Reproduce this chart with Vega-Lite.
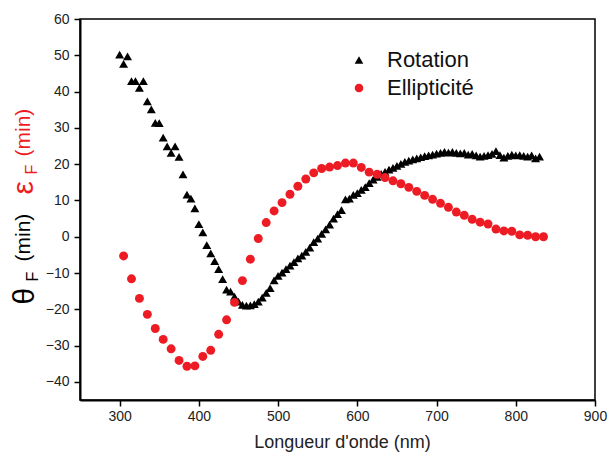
{
  "$schema": "https://vega.github.io/schema/vega-lite/v6.json",
  "width": 515,
  "height": 381,
  "autosize": "none",
  "padding": {"left": 80, "top": 19, "right": 15, "bottom": 59},
  "background": "white",
  "config": {
    "font": "Liberation Sans",
    "view": {"stroke": "#000", "strokeWidth": 1.5},
    "axis": {"grid": false, "labelFont": "Liberation Sans", "titleFont": "Liberation Sans", "titleFontWeight": "normal"}
  },
  "data": {"values": [
    {"series": "Rotation", "nm": 300, "value": 50.2},
    {"series": "Rotation", "nm": 305, "value": 47.6},
    {"series": "Rotation", "nm": 310, "value": 49.7},
    {"series": "Rotation", "nm": 315, "value": 42.9},
    {"series": "Rotation", "nm": 320, "value": 42.9},
    {"series": "Rotation", "nm": 325, "value": 41.0},
    {"series": "Rotation", "nm": 330, "value": 42.9},
    {"series": "Rotation", "nm": 335, "value": 37.3},
    {"series": "Rotation", "nm": 340, "value": 35.1},
    {"series": "Rotation", "nm": 345, "value": 31.4},
    {"series": "Rotation", "nm": 350, "value": 31.3},
    {"series": "Rotation", "nm": 355, "value": 27.3},
    {"series": "Rotation", "nm": 360, "value": 24.9},
    {"series": "Rotation", "nm": 365, "value": 23.1},
    {"series": "Rotation", "nm": 370, "value": 24.9},
    {"series": "Rotation", "nm": 375, "value": 22.0},
    {"series": "Rotation", "nm": 380, "value": 17.2},
    {"series": "Rotation", "nm": 385, "value": 11.6},
    {"series": "Rotation", "nm": 390, "value": 10.5},
    {"series": "Rotation", "nm": 395, "value": 7.8},
    {"series": "Rotation", "nm": 400, "value": 3.5},
    {"series": "Rotation", "nm": 405, "value": 1.2},
    {"series": "Rotation", "nm": 410, "value": -2.3},
    {"series": "Rotation", "nm": 415, "value": -4.6},
    {"series": "Rotation", "nm": 420, "value": -6.7},
    {"series": "Rotation", "nm": 425, "value": -8.9},
    {"series": "Rotation", "nm": 430, "value": -11.7},
    {"series": "Rotation", "nm": 435, "value": -14.6},
    {"series": "Rotation", "nm": 440, "value": -15.1},
    {"series": "Rotation", "nm": 445, "value": -16.5},
    {"series": "Rotation", "nm": 450, "value": -17.9},
    {"series": "Rotation", "nm": 455, "value": -18.8},
    {"series": "Rotation", "nm": 460, "value": -19.0},
    {"series": "Rotation", "nm": 465, "value": -18.9},
    {"series": "Rotation", "nm": 470, "value": -18.6},
    {"series": "Rotation", "nm": 475, "value": -17.9},
    {"series": "Rotation", "nm": 480, "value": -16.8},
    {"series": "Rotation", "nm": 485, "value": -15.5},
    {"series": "Rotation", "nm": 490, "value": -14.2},
    {"series": "Rotation", "nm": 495, "value": -12.0},
    {"series": "Rotation", "nm": 500, "value": -10.8},
    {"series": "Rotation", "nm": 505, "value": -9.9},
    {"series": "Rotation", "nm": 510, "value": -8.9},
    {"series": "Rotation", "nm": 515, "value": -8.0},
    {"series": "Rotation", "nm": 520, "value": -7.0},
    {"series": "Rotation", "nm": 525, "value": -6.0},
    {"series": "Rotation", "nm": 530, "value": -5.2},
    {"series": "Rotation", "nm": 535, "value": -4.2},
    {"series": "Rotation", "nm": 540, "value": -3.0},
    {"series": "Rotation", "nm": 545, "value": -1.5},
    {"series": "Rotation", "nm": 550, "value": -0.5},
    {"series": "Rotation", "nm": 555, "value": 0.8},
    {"series": "Rotation", "nm": 560, "value": 2.0},
    {"series": "Rotation", "nm": 565, "value": 3.3},
    {"series": "Rotation", "nm": 570, "value": 5.0},
    {"series": "Rotation", "nm": 575, "value": 6.2},
    {"series": "Rotation", "nm": 580, "value": 7.3},
    {"series": "Rotation", "nm": 585, "value": 10.3},
    {"series": "Rotation", "nm": 590, "value": 10.5},
    {"series": "Rotation", "nm": 595, "value": 11.5},
    {"series": "Rotation", "nm": 600, "value": 12.0},
    {"series": "Rotation", "nm": 605, "value": 12.9},
    {"series": "Rotation", "nm": 610, "value": 13.7},
    {"series": "Rotation", "nm": 615, "value": 14.8},
    {"series": "Rotation", "nm": 620, "value": 15.7},
    {"series": "Rotation", "nm": 625, "value": 16.5},
    {"series": "Rotation", "nm": 630, "value": 17.3},
    {"series": "Rotation", "nm": 635, "value": 17.9},
    {"series": "Rotation", "nm": 640, "value": 18.5},
    {"series": "Rotation", "nm": 645, "value": 19.0},
    {"series": "Rotation", "nm": 650, "value": 19.5},
    {"series": "Rotation", "nm": 655, "value": 20.1},
    {"series": "Rotation", "nm": 660, "value": 20.6},
    {"series": "Rotation", "nm": 665, "value": 21.0},
    {"series": "Rotation", "nm": 670, "value": 21.3},
    {"series": "Rotation", "nm": 675, "value": 21.6},
    {"series": "Rotation", "nm": 680, "value": 21.9},
    {"series": "Rotation", "nm": 685, "value": 22.2},
    {"series": "Rotation", "nm": 690, "value": 22.4},
    {"series": "Rotation", "nm": 695, "value": 22.6},
    {"series": "Rotation", "nm": 700, "value": 22.9},
    {"series": "Rotation", "nm": 705, "value": 23.1},
    {"series": "Rotation", "nm": 710, "value": 23.4},
    {"series": "Rotation", "nm": 715, "value": 23.2},
    {"series": "Rotation", "nm": 720, "value": 23.4},
    {"series": "Rotation", "nm": 725, "value": 23.1},
    {"series": "Rotation", "nm": 730, "value": 23.0},
    {"series": "Rotation", "nm": 735, "value": 23.1},
    {"series": "Rotation", "nm": 740, "value": 22.6},
    {"series": "Rotation", "nm": 745, "value": 22.8},
    {"series": "Rotation", "nm": 750, "value": 22.4},
    {"series": "Rotation", "nm": 755, "value": 22.1},
    {"series": "Rotation", "nm": 760, "value": 22.3},
    {"series": "Rotation", "nm": 765, "value": 22.5},
    {"series": "Rotation", "nm": 770, "value": 22.8},
    {"series": "Rotation", "nm": 775, "value": 23.6},
    {"series": "Rotation", "nm": 780, "value": 22.5},
    {"series": "Rotation", "nm": 785, "value": 21.8},
    {"series": "Rotation", "nm": 790, "value": 22.3},
    {"series": "Rotation", "nm": 795, "value": 22.6},
    {"series": "Rotation", "nm": 800, "value": 22.4},
    {"series": "Rotation", "nm": 805, "value": 22.5},
    {"series": "Rotation", "nm": 810, "value": 22.3},
    {"series": "Rotation", "nm": 815, "value": 22.1},
    {"series": "Rotation", "nm": 820, "value": 22.4},
    {"series": "Rotation", "nm": 825, "value": 21.6},
    {"series": "Rotation", "nm": 830, "value": 22.1},
    {"series": "Ellipticité", "nm": 305, "value": -5.3},
    {"series": "Ellipticité", "nm": 315, "value": -11.6},
    {"series": "Ellipticité", "nm": 325, "value": -17.0},
    {"series": "Ellipticité", "nm": 335, "value": -21.4},
    {"series": "Ellipticité", "nm": 345, "value": -25.3},
    {"series": "Ellipticité", "nm": 355, "value": -28.3},
    {"series": "Ellipticité", "nm": 365, "value": -30.9},
    {"series": "Ellipticité", "nm": 375, "value": -34.1},
    {"series": "Ellipticité", "nm": 385, "value": -35.7},
    {"series": "Ellipticité", "nm": 395, "value": -35.6},
    {"series": "Ellipticité", "nm": 405, "value": -33.0},
    {"series": "Ellipticité", "nm": 415, "value": -31.3},
    {"series": "Ellipticité", "nm": 425, "value": -26.9},
    {"series": "Ellipticité", "nm": 435, "value": -22.9},
    {"series": "Ellipticité", "nm": 445, "value": -18.1},
    {"series": "Ellipticité", "nm": 455, "value": -12.1},
    {"series": "Ellipticité", "nm": 465, "value": -6.2},
    {"series": "Ellipticité", "nm": 475, "value": -0.5},
    {"series": "Ellipticité", "nm": 485, "value": 3.9},
    {"series": "Ellipticité", "nm": 495, "value": 7.1},
    {"series": "Ellipticité", "nm": 505, "value": 9.4},
    {"series": "Ellipticité", "nm": 515, "value": 11.7},
    {"series": "Ellipticité", "nm": 525, "value": 13.9},
    {"series": "Ellipticité", "nm": 535, "value": 15.9},
    {"series": "Ellipticité", "nm": 545, "value": 17.6},
    {"series": "Ellipticité", "nm": 555, "value": 18.8},
    {"series": "Ellipticité", "nm": 565, "value": 19.2},
    {"series": "Ellipticité", "nm": 575, "value": 19.6},
    {"series": "Ellipticité", "nm": 585, "value": 20.3},
    {"series": "Ellipticité", "nm": 595, "value": 20.3},
    {"series": "Ellipticité", "nm": 605, "value": 19.1},
    {"series": "Ellipticité", "nm": 615, "value": 17.8},
    {"series": "Ellipticité", "nm": 625, "value": 17.2},
    {"series": "Ellipticité", "nm": 635, "value": 16.3},
    {"series": "Ellipticité", "nm": 645, "value": 15.4},
    {"series": "Ellipticité", "nm": 655, "value": 14.6},
    {"series": "Ellipticité", "nm": 665, "value": 13.6},
    {"series": "Ellipticité", "nm": 675, "value": 12.5},
    {"series": "Ellipticité", "nm": 685, "value": 11.4},
    {"series": "Ellipticité", "nm": 695, "value": 10.3},
    {"series": "Ellipticité", "nm": 705, "value": 9.2},
    {"series": "Ellipticité", "nm": 715, "value": 8.1},
    {"series": "Ellipticité", "nm": 725, "value": 6.8},
    {"series": "Ellipticité", "nm": 735, "value": 5.9},
    {"series": "Ellipticité", "nm": 745, "value": 4.8},
    {"series": "Ellipticité", "nm": 755, "value": 4.0},
    {"series": "Ellipticité", "nm": 765, "value": 3.5},
    {"series": "Ellipticité", "nm": 775, "value": 2.1},
    {"series": "Ellipticité", "nm": 785, "value": 1.6},
    {"series": "Ellipticité", "nm": 795, "value": 1.5},
    {"series": "Ellipticité", "nm": 805, "value": 0.5},
    {"series": "Ellipticité", "nm": 815, "value": 0.4},
    {"series": "Ellipticité", "nm": 825, "value": 0.0},
    {"series": "Ellipticité", "nm": 835, "value": 0.0}
  ]},
  "encoding": {
    "x": {
      "field": "nm", "type": "quantitative",
      "scale": {"domain": [250, 900], "nice": false, "zero": false},
      "axis": {
        "title": "Longueur d'onde (nm)",
        "values": [300, 400, 500, 600, 700, 800, 900],
        "labelFlush": false, "labelOverlap": false,
        "labelFontSize": 14, "labelColor": "#222", "labelPadding": 3,
        "tickSize": 6, "tickColor": "#000", "tickWidth": 1.5,
        "domainColor": "#000", "domainWidth": 2,
        "titleFontSize": 18, "titleColor": "#222",
        "titleX": 262, "titleY": 47, "titleAlign": "center", "titleBaseline": "alphabetic"
      }
    }
  },
  "resolve": {"axis": {"y": "independent"}},
  "layer": [
    {
      "mark": {"type": "point", "filled": true, "opacity": 1},
      "encoding": {
        "y": {
          "field": "value", "type": "quantitative",
          "scale": {"domain": [-45, 60], "nice": false, "zero": false},
          "axis": {
            "orient": "left",
            "values": [-40, -30, -20, -10, 0, 10, 20, 30, 40, 50, 60],
            "labelFontSize": 14, "labelColor": "#222", "labelPadding": 5,
            "tickSize": 6, "tickColor": "#000", "tickWidth": 1.5,
            "domainColor": "#000", "domainWidth": 2,
            "title": "θ", "titleFontSize": 30, "titleColor": "#000",
            "titleAngle": 270, "titleAlign": "left", "titleBaseline": "alphabetic",
            "titleX": -47, "titleY": 285
          }
        },
        "color": {
          "field": "series", "type": "nominal",
          "scale": {"domain": ["Rotation", "Ellipticité"], "range": ["#000000", "#ed1c24"]},
          "legend": {
            "title": null, "orient": "none", "legendX": 268, "legendY": 30,
            "labelFontSize": 22, "labelColor": "#111", "labelOffset": 17,
            "rowPadding": 6, "symbolSize": 75, "padding": 0
          }
        },
        "shape": {
          "field": "series", "type": "nominal",
          "scale": {"domain": ["Rotation", "Ellipticité"], "range": ["triangle-up", "circle"]},
          "legend": {
            "title": null, "orient": "none", "legendX": 268, "legendY": 30,
            "labelFontSize": 22, "labelColor": "#111", "labelOffset": 17,
            "rowPadding": 6, "symbolSize": 75, "padding": 0
          }
        },
        "size": {"value": 80}
      }
    },
    {
      "transform": [{"filter": "datum.nm == 300"}],
      "mark": {"type": "point", "opacity": 0},
      "encoding": {
        "y": {
          "field": "value", "type": "quantitative",
          "axis": {
            "orient": "left", "labels": false, "ticks": false, "domain": false,
            "title": "F", "titleFontSize": 16, "titleColor": "#000",
            "titleAngle": 270, "titleAlign": "left", "titleBaseline": "alphabetic",
            "titleX": -43, "titleY": 262
          }
        }
      }
    },
    {
      "transform": [{"filter": "datum.nm == 300"}],
      "mark": {"type": "point", "opacity": 0},
      "encoding": {
        "y": {
          "field": "value", "type": "quantitative",
          "axis": {
            "orient": "left", "labels": false, "ticks": false, "domain": false,
            "title": "(min)", "titleFontSize": 21, "titleColor": "#000",
            "titleAngle": 270, "titleAlign": "left", "titleBaseline": "alphabetic",
            "titleX": -51, "titleY": 242
          }
        }
      }
    },
    {
      "transform": [{"filter": "datum.nm == 300"}],
      "mark": {"type": "point", "opacity": 0},
      "encoding": {
        "y": {
          "field": "value", "type": "quantitative",
          "axis": {
            "orient": "left", "labels": false, "ticks": false, "domain": false,
            "title": "ε", "titleFontSize": 30, "titleColor": "#ed1c24",
            "titleAngle": 270, "titleAlign": "left", "titleBaseline": "alphabetic",
            "titleX": -48, "titleY": 175
          }
        }
      }
    },
    {
      "transform": [{"filter": "datum.nm == 300"}],
      "mark": {"type": "point", "opacity": 0},
      "encoding": {
        "y": {
          "field": "value", "type": "quantitative",
          "axis": {
            "orient": "left", "labels": false, "ticks": false, "domain": false,
            "title": "F", "titleFontSize": 16, "titleColor": "#ed1c24",
            "titleAngle": 270, "titleAlign": "left", "titleBaseline": "alphabetic",
            "titleX": -44, "titleY": 155
          }
        }
      }
    },
    {
      "transform": [{"filter": "datum.nm == 300"}],
      "mark": {"type": "point", "opacity": 0},
      "encoding": {
        "y": {
          "field": "value", "type": "quantitative",
          "axis": {
            "orient": "left", "labels": false, "ticks": false, "domain": false,
            "title": "(min)", "titleFontSize": 21, "titleColor": "#ed1c24",
            "titleAngle": 270, "titleAlign": "left", "titleBaseline": "alphabetic",
            "titleX": -51, "titleY": 137
          }
        }
      }
    }
  ]
}
